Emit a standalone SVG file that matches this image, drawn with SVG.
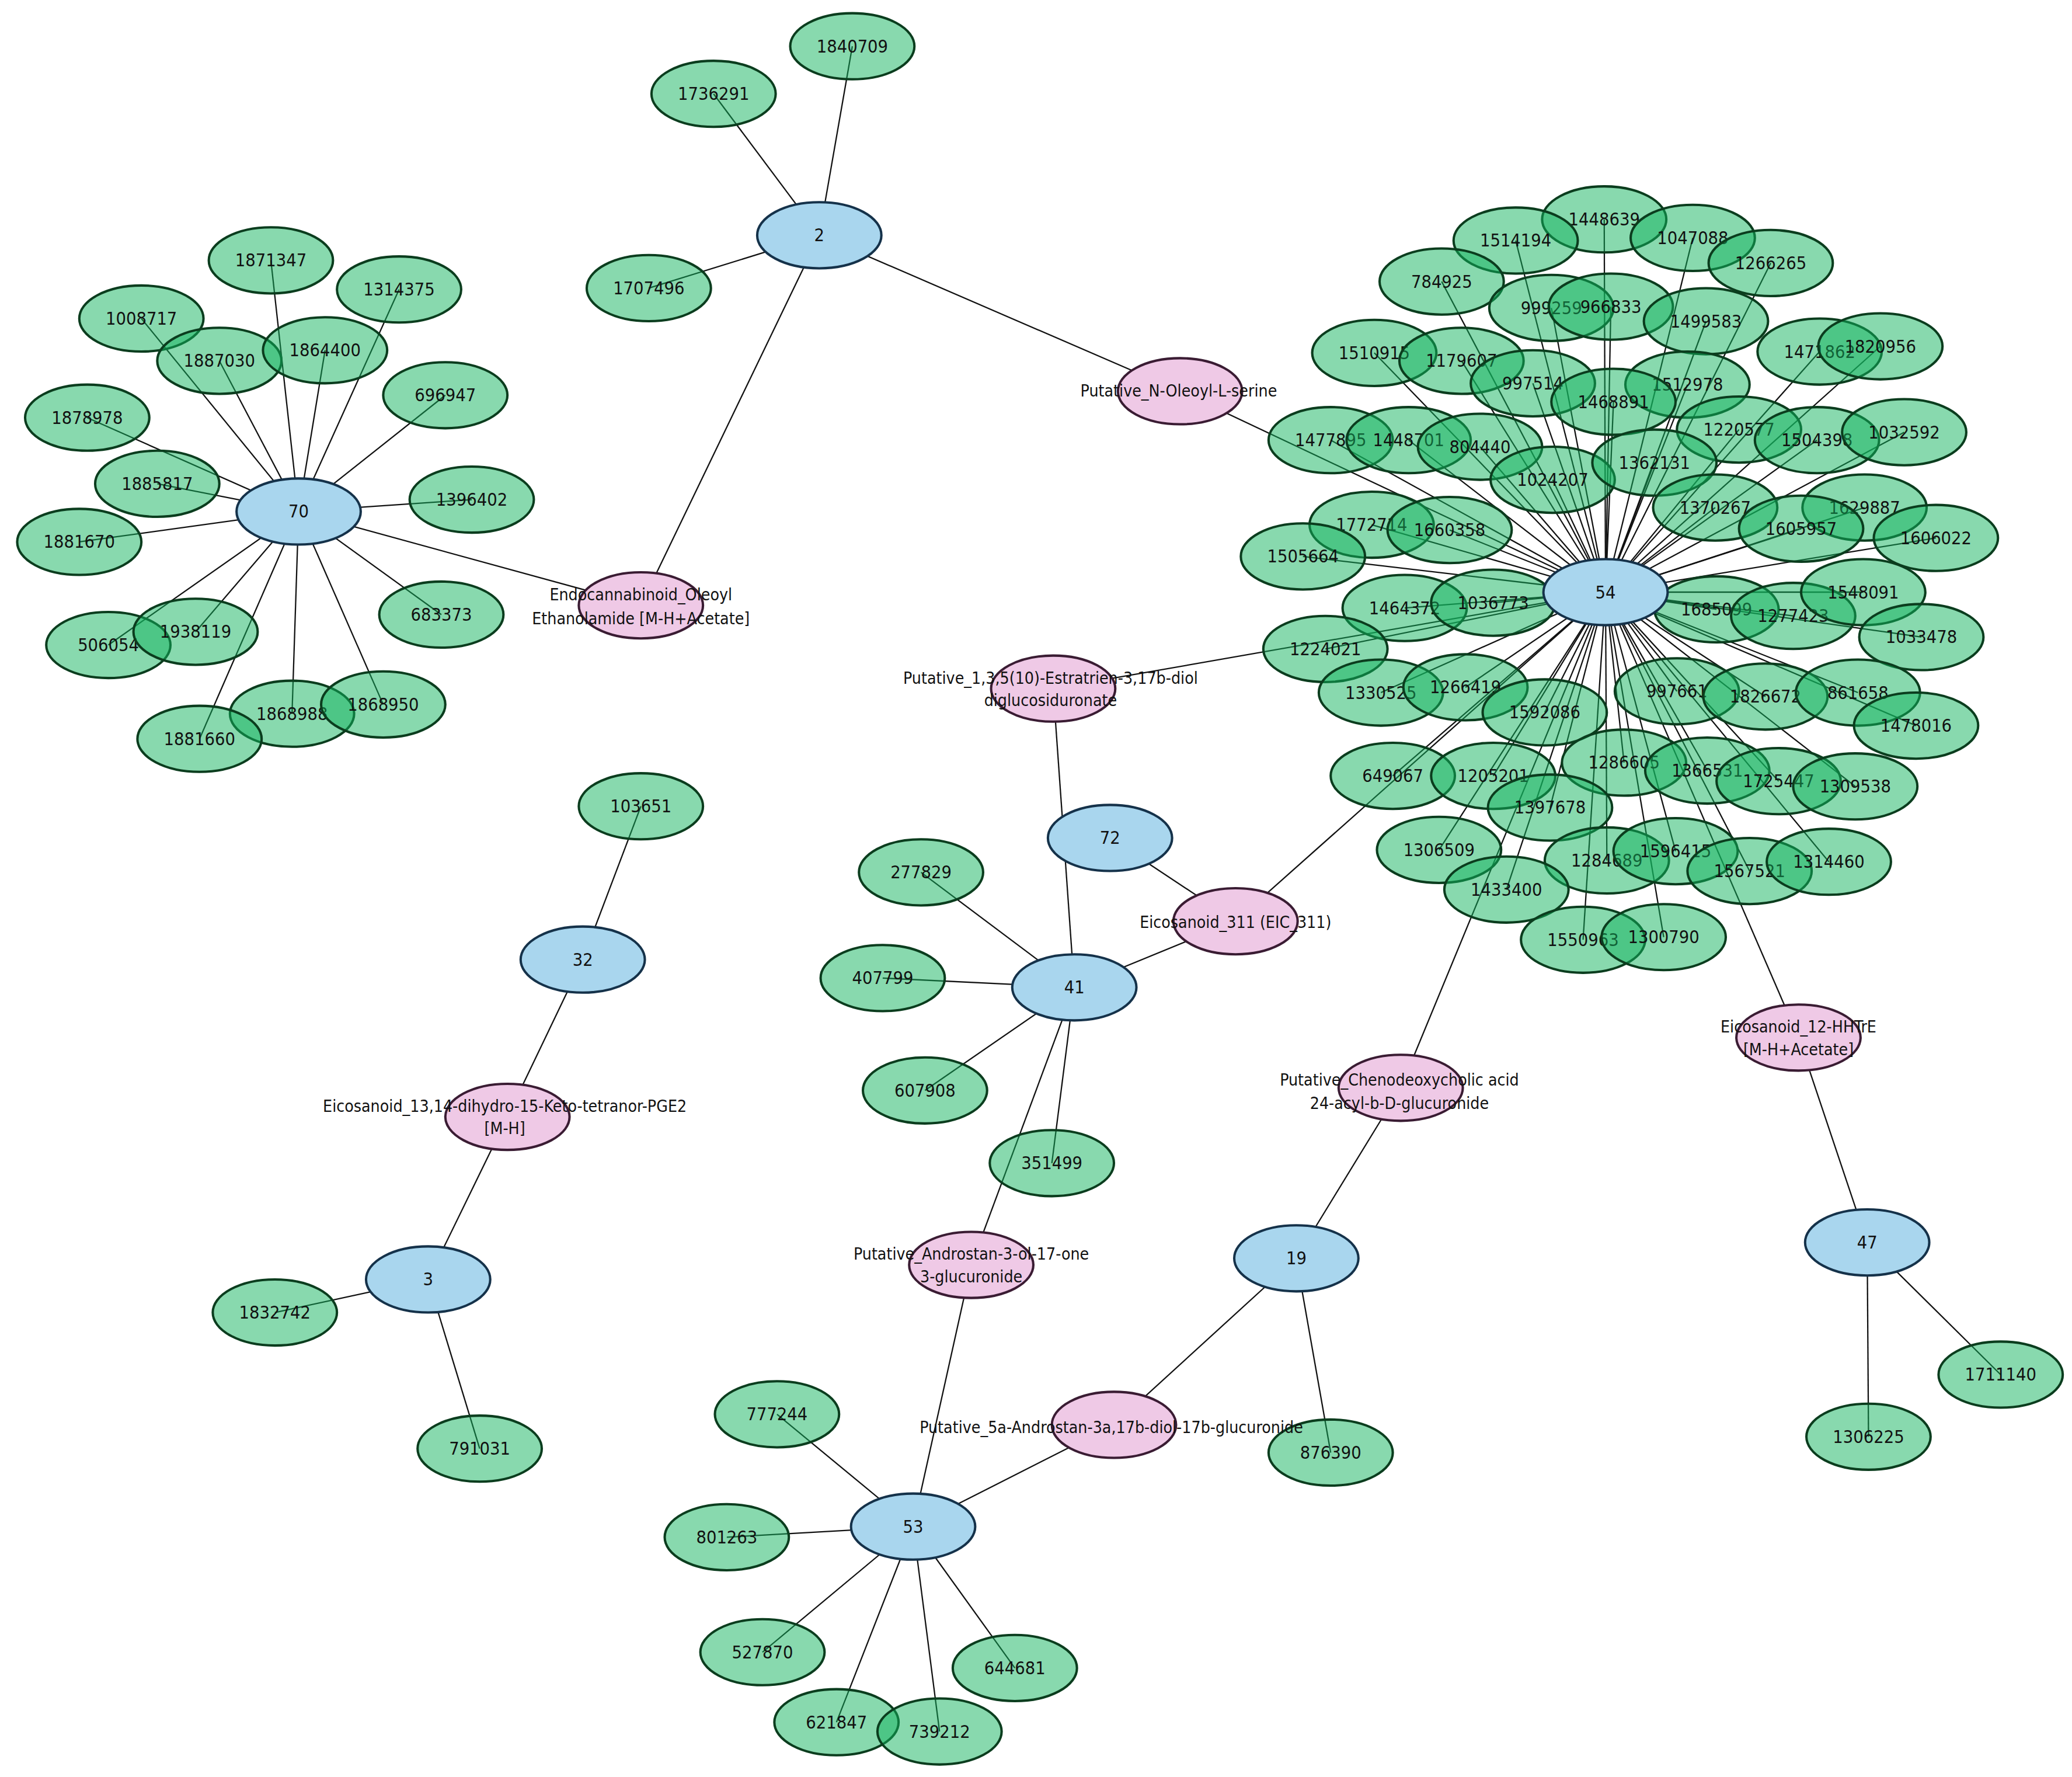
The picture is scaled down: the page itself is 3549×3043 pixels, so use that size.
<svg xmlns="http://www.w3.org/2000/svg" width="3549" height="3043" viewBox="0 0 3549 3043">
<style>
.g{fill:#12b45e;fill-opacity:.5;stroke:#0b3d1e;stroke-width:1.8}
.b{fill:#a9d6ee;stroke:#15324a;stroke-width:1.8}
.p{fill:#efc9e6;stroke:#3a1c33;stroke-width:1.8}
text{font-family:"DejaVu Sans Condensed","Liberation Sans",sans-serif;font-size:13.5px;text-anchor:middle;dominant-baseline:central;fill:#111}
.l{font-size:12.5px}
#edges line{stroke:#111;stroke-width:1}
</style>
<rect width="3549" height="3043" fill="#fff"/>
<g transform="scale(2.2634)">
<g id="edges">
<line x1="620" y1="178" x2="491" y2="218"/><line x1="620" y1="178" x2="540" y2="71"/><line x1="620" y1="178" x2="645" y2="35"/>
<line x1="620" y1="178" x2="485" y2="458"/><line x1="620" y1="178" x2="893" y2="296"/>
<line x1="893" y1="296" x2="1215" y2="448"/>
<line x1="226" y1="387" x2="485" y2="458"/>
<line x1="226" y1="387" x2="205" y2="197"/><line x1="226" y1="387" x2="302" y2="219"/><line x1="226" y1="387" x2="107" y2="241"/><line x1="226" y1="387" x2="166" y2="273"/><line x1="226" y1="387" x2="246" y2="265"/><line x1="226" y1="387" x2="337" y2="299"/><line x1="226" y1="387" x2="66" y2="316"/><line x1="226" y1="387" x2="119" y2="366"/><line x1="226" y1="387" x2="357" y2="378"/><line x1="226" y1="387" x2="60" y2="410"/><line x1="226" y1="387" x2="334" y2="465"/><line x1="226" y1="387" x2="82" y2="488"/><line x1="226" y1="387" x2="148" y2="478"/><line x1="226" y1="387" x2="221" y2="540"/><line x1="226" y1="387" x2="290" y2="533"/><line x1="226" y1="387" x2="151" y2="559"/>
<line x1="1215" y1="448" x2="1214" y2="166"/><line x1="1215" y1="448" x2="1147" y2="182"/><line x1="1215" y1="448" x2="1281" y2="180"/><line x1="1215" y1="448" x2="1340" y2="199"/><line x1="1215" y1="448" x2="1091" y2="213"/><line x1="1215" y1="448" x2="1174" y2="233"/><line x1="1215" y1="448" x2="1219" y2="232"/><line x1="1215" y1="448" x2="1291" y2="243"/><line x1="1215" y1="448" x2="1040" y2="267"/><line x1="1215" y1="448" x2="1106" y2="273"/><line x1="1215" y1="448" x2="1377" y2="266"/><line x1="1215" y1="448" x2="1423" y2="262"/><line x1="1215" y1="448" x2="1160" y2="290"/><line x1="1215" y1="448" x2="1277" y2="291"/><line x1="1215" y1="448" x2="1221" y2="304"/><line x1="1215" y1="448" x2="1007" y2="333"/><line x1="1215" y1="448" x2="1066" y2="333"/><line x1="1215" y1="448" x2="1120" y2="338"/><line x1="1215" y1="448" x2="1316" y2="325"/><line x1="1215" y1="448" x2="1375" y2="333"/><line x1="1215" y1="448" x2="1441" y2="327"/><line x1="1215" y1="448" x2="1175" y2="363"/><line x1="1215" y1="448" x2="1252" y2="350"/><line x1="1215" y1="448" x2="1298" y2="384"/><line x1="1215" y1="448" x2="1411" y2="384"/><line x1="1215" y1="448" x2="1363" y2="400"/><line x1="1215" y1="448" x2="1465" y2="407"/><line x1="1215" y1="448" x2="1038" y2="397"/><line x1="1215" y1="448" x2="1097" y2="401"/><line x1="1215" y1="448" x2="986" y2="421"/><line x1="1215" y1="448" x2="1063" y2="460"/><line x1="1215" y1="448" x2="1130" y2="456"/><line x1="1215" y1="448" x2="1299" y2="461"/><line x1="1215" y1="448" x2="1357" y2="466"/><line x1="1215" y1="448" x2="1410" y2="448"/><line x1="1215" y1="448" x2="1454" y2="482"/><line x1="1215" y1="448" x2="1003" y2="491"/><line x1="1215" y1="448" x2="1045" y2="524"/><line x1="1215" y1="448" x2="1109" y2="520"/><line x1="1215" y1="448" x2="1169" y2="539"/><line x1="1215" y1="448" x2="1269" y2="523"/><line x1="1215" y1="448" x2="1336" y2="527"/><line x1="1215" y1="448" x2="1406" y2="524"/><line x1="1215" y1="448" x2="1450" y2="549"/><line x1="1215" y1="448" x2="1054" y2="587"/><line x1="1215" y1="448" x2="1130" y2="587"/><line x1="1215" y1="448" x2="1229" y2="577"/><line x1="1215" y1="448" x2="1292" y2="583"/><line x1="1215" y1="448" x2="1346" y2="591"/><line x1="1215" y1="448" x2="1404" y2="595"/><line x1="1215" y1="448" x2="1173" y2="611"/><line x1="1215" y1="448" x2="1089" y2="643"/><line x1="1215" y1="448" x2="1216" y2="651"/><line x1="1215" y1="448" x2="1268" y2="644"/><line x1="1215" y1="448" x2="1324" y2="659"/><line x1="1215" y1="448" x2="1384" y2="652"/><line x1="1215" y1="448" x2="1140" y2="673"/><line x1="1215" y1="448" x2="1198" y2="711"/><line x1="1215" y1="448" x2="1259" y2="709"/>
<line x1="1215" y1="448" x2="797" y2="521"/><line x1="1215" y1="448" x2="935" y2="697"/><line x1="1215" y1="448" x2="1060" y2="823"/><line x1="1215" y1="448" x2="1361" y2="785"/>
<line x1="813" y1="747" x2="797" y2="521"/><line x1="813" y1="747" x2="935" y2="697"/><line x1="840" y1="634" x2="935" y2="697"/><line x1="813" y1="747" x2="735" y2="957"/>
<line x1="813" y1="747" x2="697" y2="660"/><line x1="813" y1="747" x2="668" y2="740"/><line x1="813" y1="747" x2="700" y2="825"/><line x1="813" y1="747" x2="796" y2="880"/>
<line x1="441" y1="726" x2="485" y2="610"/><line x1="441" y1="726" x2="384" y2="845"/><line x1="384" y1="845" x2="324" y2="968"/>
<line x1="324" y1="968" x2="208" y2="993"/><line x1="324" y1="968" x2="363" y2="1096"/>
<line x1="735" y1="957" x2="691" y2="1155"/>
<line x1="691" y1="1155" x2="588" y2="1070"/><line x1="691" y1="1155" x2="550" y2="1163"/><line x1="691" y1="1155" x2="577" y2="1250"/><line x1="691" y1="1155" x2="633" y2="1303"/><line x1="691" y1="1155" x2="711" y2="1310"/><line x1="691" y1="1155" x2="768" y2="1262"/>
<line x1="691" y1="1155" x2="843" y2="1078"/><line x1="843" y1="1078" x2="981" y2="952"/><line x1="981" y1="952" x2="1007" y2="1099"/><line x1="981" y1="952" x2="1060" y2="823"/>
<line x1="1413" y1="940" x2="1361" y2="785"/><line x1="1413" y1="940" x2="1414" y2="1087"/><line x1="1413" y1="940" x2="1514" y2="1040"/>
</g>
<g id="green">
<g id="n1736291"><ellipse class="g" cx="540" cy="71" rx="47" ry="25"/><text x="540" y="71">1736291</text></g>
<g id="n1840709"><ellipse class="g" cx="645" cy="35" rx="47" ry="25"/><text x="645" y="35">1840709</text></g>
<g id="n1707496"><ellipse class="g" cx="491" cy="218" rx="47" ry="25"/><text x="491" y="218">1707496</text></g>
<g id="n1871347"><ellipse class="g" cx="205" cy="197" rx="47" ry="25"/><text x="205" y="197">1871347</text></g>
<g id="n1314375"><ellipse class="g" cx="302" cy="219" rx="47" ry="25"/><text x="302" y="219">1314375</text></g>
<g id="n1008717"><ellipse class="g" cx="107" cy="241" rx="47" ry="25"/><text x="107" y="241">1008717</text></g>
<g id="n1887030"><ellipse class="g" cx="166" cy="273" rx="47" ry="25"/><text x="166" y="273">1887030</text></g>
<g id="n1864400"><ellipse class="g" cx="246" cy="265" rx="47" ry="25"/><text x="246" y="265">1864400</text></g>
<g id="n696947"><ellipse class="g" cx="337" cy="299" rx="47" ry="25"/><text x="337" y="299">696947</text></g>
<g id="n1878978"><ellipse class="g" cx="66" cy="316" rx="47" ry="25"/><text x="66" y="316">1878978</text></g>
<g id="n1885817"><ellipse class="g" cx="119" cy="366" rx="47" ry="25"/><text x="119" y="366">1885817</text></g>
<g id="n1396402"><ellipse class="g" cx="357" cy="378" rx="47" ry="25"/><text x="357" y="378">1396402</text></g>
<g id="n1881670"><ellipse class="g" cx="60" cy="410" rx="47" ry="25"/><text x="60" y="410">1881670</text></g>
<g id="n683373"><ellipse class="g" cx="334" cy="465" rx="47" ry="25"/><text x="334" y="465">683373</text></g>
<g id="n506054"><ellipse class="g" cx="82" cy="488" rx="47" ry="25"/><text x="82" y="488">506054</text></g>
<g id="n1938119"><ellipse class="g" cx="148" cy="478" rx="47" ry="25"/><text x="148" y="478">1938119</text></g>
<g id="n1868988"><ellipse class="g" cx="221" cy="540" rx="47" ry="25"/><text x="221" y="540">1868988</text></g>
<g id="n1868950"><ellipse class="g" cx="290" cy="533" rx="47" ry="25"/><text x="290" y="533">1868950</text></g>
<g id="n1881660"><ellipse class="g" cx="151" cy="559" rx="47" ry="25"/><text x="151" y="559">1881660</text></g>
<g id="n1448639"><ellipse class="g" cx="1214" cy="166" rx="47" ry="25"/><text x="1214" y="166">1448639</text></g>
<g id="n1514194"><ellipse class="g" cx="1147" cy="182" rx="47" ry="25"/><text x="1147" y="182">1514194</text></g>
<g id="n1047088"><ellipse class="g" cx="1281" cy="180" rx="47" ry="25"/><text x="1281" y="180">1047088</text></g>
<g id="n1266265"><ellipse class="g" cx="1340" cy="199" rx="47" ry="25"/><text x="1340" y="199">1266265</text></g>
<g id="n784925"><ellipse class="g" cx="1091" cy="213" rx="47" ry="25"/><text x="1091" y="213">784925</text></g>
<g id="n999259"><ellipse class="g" cx="1174" cy="233" rx="47" ry="25"/><text x="1174" y="233">999259</text></g>
<g id="n966833"><ellipse class="g" cx="1219" cy="232" rx="47" ry="25"/><text x="1219" y="232">966833</text></g>
<g id="n1499583"><ellipse class="g" cx="1291" cy="243" rx="47" ry="25"/><text x="1291" y="243">1499583</text></g>
<g id="n1510915"><ellipse class="g" cx="1040" cy="267" rx="47" ry="25"/><text x="1040" y="267">1510915</text></g>
<g id="n1179607"><ellipse class="g" cx="1106" cy="273" rx="47" ry="25"/><text x="1106" y="273">1179607</text></g>
<g id="n1471862"><ellipse class="g" cx="1377" cy="266" rx="47" ry="25"/><text x="1377" y="266">1471862</text></g>
<g id="n1820956"><ellipse class="g" cx="1423" cy="262" rx="47" ry="25"/><text x="1423" y="262">1820956</text></g>
<g id="n997514"><ellipse class="g" cx="1160" cy="290" rx="47" ry="25"/><text x="1160" y="290">997514</text></g>
<g id="n1512978"><ellipse class="g" cx="1277" cy="291" rx="47" ry="25"/><text x="1277" y="291">1512978</text></g>
<g id="n1468891"><ellipse class="g" cx="1221" cy="304" rx="47" ry="25"/><text x="1221" y="304">1468891</text></g>
<g id="n1477895"><ellipse class="g" cx="1007" cy="333" rx="47" ry="25"/><text x="1007" y="333">1477895</text></g>
<g id="n1448701"><ellipse class="g" cx="1066" cy="333" rx="47" ry="25"/><text x="1066" y="333">1448701</text></g>
<g id="n804440"><ellipse class="g" cx="1120" cy="338" rx="47" ry="25"/><text x="1120" y="338">804440</text></g>
<g id="n1220577"><ellipse class="g" cx="1316" cy="325" rx="47" ry="25"/><text x="1316" y="325">1220577</text></g>
<g id="n1504398"><ellipse class="g" cx="1375" cy="333" rx="47" ry="25"/><text x="1375" y="333">1504398</text></g>
<g id="n1032592"><ellipse class="g" cx="1441" cy="327" rx="47" ry="25"/><text x="1441" y="327">1032592</text></g>
<g id="n1024207"><ellipse class="g" cx="1175" cy="363" rx="47" ry="25"/><text x="1175" y="363">1024207</text></g>
<g id="n1362131"><ellipse class="g" cx="1252" cy="350" rx="47" ry="25"/><text x="1252" y="350">1362131</text></g>
<g id="n1370267"><ellipse class="g" cx="1298" cy="384" rx="47" ry="25"/><text x="1298" y="384">1370267</text></g>
<g id="n1629887"><ellipse class="g" cx="1411" cy="384" rx="47" ry="25"/><text x="1411" y="384">1629887</text></g>
<g id="n1605957"><ellipse class="g" cx="1363" cy="400" rx="47" ry="25"/><text x="1363" y="400">1605957</text></g>
<g id="n1606022"><ellipse class="g" cx="1465" cy="407" rx="47" ry="25"/><text x="1465" y="407">1606022</text></g>
<g id="n1772714"><ellipse class="g" cx="1038" cy="397" rx="47" ry="25"/><text x="1038" y="397">1772714</text></g>
<g id="n1660358"><ellipse class="g" cx="1097" cy="401" rx="47" ry="25"/><text x="1097" y="401">1660358</text></g>
<g id="n1505664"><ellipse class="g" cx="986" cy="421" rx="47" ry="25"/><text x="986" y="421">1505664</text></g>
<g id="n1464372"><ellipse class="g" cx="1063" cy="460" rx="47" ry="25"/><text x="1063" y="460">1464372</text></g>
<g id="n1036773"><ellipse class="g" cx="1130" cy="456" rx="47" ry="25"/><text x="1130" y="456">1036773</text></g>
<g id="n1685099"><ellipse class="g" cx="1299" cy="461" rx="47" ry="25"/><text x="1299" y="461">1685099</text></g>
<g id="n1277423"><ellipse class="g" cx="1357" cy="466" rx="47" ry="25"/><text x="1357" y="466">1277423</text></g>
<g id="n1548091"><ellipse class="g" cx="1410" cy="448" rx="47" ry="25"/><text x="1410" y="448">1548091</text></g>
<g id="n1033478"><ellipse class="g" cx="1454" cy="482" rx="47" ry="25"/><text x="1454" y="482">1033478</text></g>
<g id="n1224021"><ellipse class="g" cx="1003" cy="491" rx="47" ry="25"/><text x="1003" y="491">1224021</text></g>
<g id="n1330525"><ellipse class="g" cx="1045" cy="524" rx="47" ry="25"/><text x="1045" y="524">1330525</text></g>
<g id="n1266419"><ellipse class="g" cx="1109" cy="520" rx="47" ry="25"/><text x="1109" y="520">1266419</text></g>
<g id="n1592086"><ellipse class="g" cx="1169" cy="539" rx="47" ry="25"/><text x="1169" y="539">1592086</text></g>
<g id="n997661"><ellipse class="g" cx="1269" cy="523" rx="47" ry="25"/><text x="1269" y="523">997661</text></g>
<g id="n1826672"><ellipse class="g" cx="1336" cy="527" rx="47" ry="25"/><text x="1336" y="527">1826672</text></g>
<g id="n861658"><ellipse class="g" cx="1406" cy="524" rx="47" ry="25"/><text x="1406" y="524">861658</text></g>
<g id="n1478016"><ellipse class="g" cx="1450" cy="549" rx="47" ry="25"/><text x="1450" y="549">1478016</text></g>
<g id="n649067"><ellipse class="g" cx="1054" cy="587" rx="47" ry="25"/><text x="1054" y="587">649067</text></g>
<g id="n1205201"><ellipse class="g" cx="1130" cy="587" rx="47" ry="25"/><text x="1130" y="587">1205201</text></g>
<g id="n1286605"><ellipse class="g" cx="1229" cy="577" rx="47" ry="25"/><text x="1229" y="577">1286605</text></g>
<g id="n1366531"><ellipse class="g" cx="1292" cy="583" rx="47" ry="25"/><text x="1292" y="583">1366531</text></g>
<g id="n1725447"><ellipse class="g" cx="1346" cy="591" rx="47" ry="25"/><text x="1346" y="591">1725447</text></g>
<g id="n1309538"><ellipse class="g" cx="1404" cy="595" rx="47" ry="25"/><text x="1404" y="595">1309538</text></g>
<g id="n1397678"><ellipse class="g" cx="1173" cy="611" rx="47" ry="25"/><text x="1173" y="611">1397678</text></g>
<g id="n1306509"><ellipse class="g" cx="1089" cy="643" rx="47" ry="25"/><text x="1089" y="643">1306509</text></g>
<g id="n1284689"><ellipse class="g" cx="1216" cy="651" rx="47" ry="25"/><text x="1216" y="651">1284689</text></g>
<g id="n1596415"><ellipse class="g" cx="1268" cy="644" rx="47" ry="25"/><text x="1268" y="644">1596415</text></g>
<g id="n1567521"><ellipse class="g" cx="1324" cy="659" rx="47" ry="25"/><text x="1324" y="659">1567521</text></g>
<g id="n1314460"><ellipse class="g" cx="1384" cy="652" rx="47" ry="25"/><text x="1384" y="652">1314460</text></g>
<g id="n1433400"><ellipse class="g" cx="1140" cy="673" rx="47" ry="25"/><text x="1140" y="673">1433400</text></g>
<g id="n1550963"><ellipse class="g" cx="1198" cy="711" rx="47" ry="25"/><text x="1198" y="711">1550963</text></g>
<g id="n1300790"><ellipse class="g" cx="1259" cy="709" rx="47" ry="25"/><text x="1259" y="709">1300790</text></g>
<g id="n277829"><ellipse class="g" cx="697" cy="660" rx="47" ry="25"/><text x="697" y="660">277829</text></g>
<g id="n407799"><ellipse class="g" cx="668" cy="740" rx="47" ry="25"/><text x="668" y="740">407799</text></g>
<g id="n607908"><ellipse class="g" cx="700" cy="825" rx="47" ry="25"/><text x="700" y="825">607908</text></g>
<g id="n351499"><ellipse class="g" cx="796" cy="880" rx="47" ry="25"/><text x="796" y="880">351499</text></g>
<g id="n103651"><ellipse class="g" cx="485" cy="610" rx="47" ry="25"/><text x="485" y="610">103651</text></g>
<g id="n1832742"><ellipse class="g" cx="208" cy="993" rx="47" ry="25"/><text x="208" y="993">1832742</text></g>
<g id="n791031"><ellipse class="g" cx="363" cy="1096" rx="47" ry="25"/><text x="363" y="1096">791031</text></g>
<g id="n777244"><ellipse class="g" cx="588" cy="1070" rx="47" ry="25"/><text x="588" y="1070">777244</text></g>
<g id="n801263"><ellipse class="g" cx="550" cy="1163" rx="47" ry="25"/><text x="550" y="1163">801263</text></g>
<g id="n527870"><ellipse class="g" cx="577" cy="1250" rx="47" ry="25"/><text x="577" y="1250">527870</text></g>
<g id="n621847"><ellipse class="g" cx="633" cy="1303" rx="47" ry="25"/><text x="633" y="1303">621847</text></g>
<g id="n739212"><ellipse class="g" cx="711" cy="1310" rx="47" ry="25"/><text x="711" y="1310">739212</text></g>
<g id="n644681"><ellipse class="g" cx="768" cy="1262" rx="47" ry="25"/><text x="768" y="1262">644681</text></g>
<g id="n876390"><ellipse class="g" cx="1007" cy="1099" rx="47" ry="25"/><text x="1007" y="1099">876390</text></g>
<g id="n1306225"><ellipse class="g" cx="1414" cy="1087" rx="47" ry="25"/><text x="1414" y="1087">1306225</text></g>
<g id="n1711140"><ellipse class="g" cx="1514" cy="1040" rx="47" ry="25"/><text x="1514" y="1040">1711140</text></g>
</g>
<g id="blue">
<g id="c2"><ellipse class="b" cx="620" cy="178" rx="47" ry="25"/><text x="620" y="178">2</text></g>
<g id="c70"><ellipse class="b" cx="226" cy="387" rx="47" ry="25"/><text x="226" y="387">70</text></g>
<g id="c54"><ellipse class="b" cx="1215" cy="448" rx="47" ry="25"/><text x="1215" y="448">54</text></g>
<g id="c72"><ellipse class="b" cx="840" cy="634" rx="47" ry="25"/><text x="840" y="634">72</text></g>
<g id="c41"><ellipse class="b" cx="813" cy="747" rx="47" ry="25"/><text x="813" y="747">41</text></g>
<g id="c32"><ellipse class="b" cx="441" cy="726" rx="47" ry="25"/><text x="441" y="726">32</text></g>
<g id="c3"><ellipse class="b" cx="324" cy="968" rx="47" ry="25"/><text x="324" y="968">3</text></g>
<g id="c53"><ellipse class="b" cx="691" cy="1155" rx="47" ry="25"/><text x="691" y="1155">53</text></g>
<g id="c19"><ellipse class="b" cx="981" cy="952" rx="47" ry="25"/><text x="981" y="952">19</text></g>
<g id="c47"><ellipse class="b" cx="1413" cy="940" rx="47" ry="25"/><text x="1413" y="940">47</text></g>
</g>
<g id="pink">
<g id="p_endo"><ellipse class="p" cx="485" cy="458" rx="47" ry="25"/><text class="l" x="485" y="450">Endocannabinoid_Oleoyl</text><text class="l" x="485" y="468">Ethanolamide  [M-H+Acetate]</text></g>
<g id="p_oleoyl"><ellipse class="p" cx="893" cy="296" rx="47" ry="25"/><text class="l" x="892" y="296">Putative_N-Oleoyl-L-serine</text></g>
<g id="p_estra"><ellipse class="p" cx="797" cy="521" rx="47" ry="25"/><text class="l" x="795" y="513">Putative_1,3,5(10)-Estratrien-3,17b-diol</text><text class="l" x="795" y="530">diglucosiduronate</text></g>
<g id="p_eic311"><ellipse class="p" cx="935" cy="697" rx="47" ry="25"/><text class="l" x="935" y="698">Eicosanoid_311 (EIC_311)</text></g>
<g id="p_pge2"><ellipse class="p" cx="384" cy="845" rx="47" ry="25"/><text class="l" x="382" y="837">Eicosanoid_13,14-dihydro-15-Keto-tetranor-PGE2</text><text class="l" x="382" y="854">[M-H]</text></g>
<g id="p_andro"><ellipse class="p" cx="735" cy="957" rx="47" ry="25"/><text class="l" x="735" y="949">Putative_Androstan-3-ol-17-one</text><text class="l" x="735" y="966">3-glucuronide</text></g>
<g id="p_5a"><ellipse class="p" cx="843" cy="1078" rx="47" ry="25"/><text class="l" x="841" y="1080">Putative_5a-Androstan-3a,17b-diol-17b-glucuronide</text></g>
<g id="p_cheno"><ellipse class="p" cx="1060" cy="823" rx="47" ry="25"/><text class="l" x="1059" y="817">Putative_Chenodeoxycholic acid</text><text class="l" x="1059" y="835">24-acyl-b-D-glucuronide</text></g>
<g id="p_hhtre"><ellipse class="p" cx="1361" cy="785" rx="47" ry="25"/><text class="l" x="1361" y="777">Eicosanoid_12-HHTrE</text><text class="l" x="1361" y="794">[M-H+Acetate]</text></g>
</g>
</g>
</svg>
